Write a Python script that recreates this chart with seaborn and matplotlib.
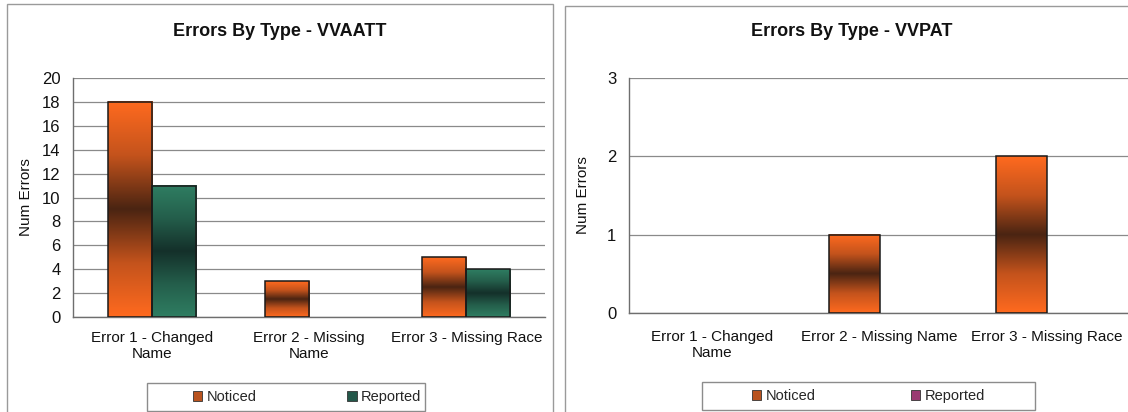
import numpy as np
import pandas as pd
import matplotlib
matplotlib.use("Agg")
import matplotlib.pyplot as plt
from matplotlib.colors import LinearSegmentedColormap
from matplotlib.patches import Patch, Rectangle
import seaborn as sns

# ---- data -------------------------------------------------------------
error_types = ["Error 1", "Error 2", "Error 3"]
series = ["Noticed", "Reported"]

vvaatt_noticed = [18, 3, 5]
vvaatt_reported = [11, 0, 4]

vvpat_noticed = [0, 1, 2]
vvpat_reported = [0, 0, 0]

vvaatt_ticklabels = ["Error 1 - Changed\nName", "Error 2 - Missing\nName",
                     "Error 3 - Missing Race"]
vvpat_ticklabels = ["Error 1 - Changed\nName", "Error 2 - Missing Name",
                    "Error 3 - Missing Race"]

vvaatt_yticks = [0, 2, 4, 6, 8, 10, 12, 14, 16, 18, 20]
vvpat_yticks = [0, 1, 2, 3]


def long_frame(noticed, reported):
    return pd.DataFrame({
        "error": error_types * 2,
        "series": [series[0]] * 3 + [series[1]] * 3,
        "count": list(noticed) + list(reported),
    })


# ---- style ------------------------------------------------------------
sns.set_style("white")
plt.rcParams["font.family"] = ["Liberation Sans", "DejaVu Sans"]

ORANGE = "#ff6a1f"
ORANGE_DARK = "#4a2412"
TEAL = "#2f7e62"
TEAL_DARK = "#14302a"
PURPLE = "#9a3a72"

cmap_orange = LinearSegmentedColormap.from_list(
    "orange_band", [ORANGE, "#c4531c", ORANGE_DARK, "#c4531c", ORANGE])
cmap_teal = LinearSegmentedColormap.from_list(
    "teal_band", [TEAL, "#245e4b", TEAL_DARK, "#245e4b", TEAL])

GRID = "#8a8a8a"
SPINE = "#6e6e6e"
TEXT = "#111111"

fig = plt.figure(figsize=(11.28, 4.12), dpi=100)
W, H = 1128, 412


def fig_rect(x0, y_top, x1, y_bot):
    return [x0 / W, 1 - y_bot / H, (x1 - x0) / W, (y_bot - y_top) / H]


def box(x0, y_top, x1, y_bot, **kw):
    fig.add_artist(Rectangle((x0 / W, 1 - y_bot / H), (x1 - x0) / W,
                             (y_bot - y_top) / H, transform=fig.transFigure,
                             fill=False, **kw))


# panel frames
box(7, 4, 553, 440, edgecolor="#9a9a9a", linewidth=1.0)
box(565, 6, 1200, 440, edgecolor="#9a9a9a", linewidth=1.0)


def gradient_bars(ax, cmaps):
    for container, cmap in zip(ax.containers, cmaps):
        for bar in container:
            h = bar.get_height()
            if h <= 0:
                bar.set_visible(False)
                continue
            x0, y0, w = bar.get_x(), bar.get_y(), bar.get_width()
            grad = np.linspace(0, 1, 256).reshape(-1, 1)
            ax.imshow(grad, cmap=cmap, extent=[x0, x0 + w, y0, y0 + h],
                      aspect="auto", origin="lower", zorder=2,
                      interpolation="bilinear")
            bar.set_facecolor("none")
            bar.set_edgecolor("#1a1a1a")
            bar.set_linewidth(1.1)
            bar.set_zorder(3)


def draw_panel(rect, df, palette, cmaps, width, yticks, ticklabels,
               title, title_x, legend_colors, legend_box, legend_x,
               colspacing, ylabel_x, xpad):
    ax = fig.add_axes(rect)
    sns.barplot(data=df, x="error", y="count", hue="series",
                order=error_types, hue_order=series, palette=palette,
                width=width, ax=ax, legend=False, saturation=1)
    gradient_bars(ax, cmaps)

    ax.set_xlim(-0.5, 2.5)
    ax.set_ylim(yticks[0], yticks[-1])
    ax.set_yticks(yticks)
    ax.set_xticks(range(len(error_types)))
    ax.set_xticklabels(ticklabels, fontsize=11, color=TEXT,
                       linespacing=1.2)
    ax.set_xticks([-0.5, 0.5, 1.5, 2.5], minor=True)
    ax.tick_params(axis="x", which="major", length=0, pad=xpad)
    ax.tick_params(axis="x", which="minor", length=5, width=0.9,
                   color=SPINE, direction="out")
    ax.tick_params(axis="y", length=5, width=0.9, color=SPINE,
                   direction="out", labelsize=12, pad=4, labelcolor=TEXT)
    ax.set_axisbelow(True)
    ax.yaxis.grid(True, color=GRID, linewidth=0.9)
    ax.xaxis.grid(False)
    for side in ("top", "right"):
        ax.spines[side].set_visible(False)
    for side in ("left", "bottom"):
        ax.spines[side].set_color(SPINE)
        ax.spines[side].set_linewidth(1.0)

    ax.set_xlabel("")
    ax.set_ylabel("Num Errors", fontsize=11, color=TEXT)
    ax.yaxis.set_label_coords(ylabel_x, 0.5)

    fig.text(title_x / W, 1 - 31 / H, title, ha="center", va="center",
             fontsize=13, fontweight="bold", color=TEXT)

    # legend: entries placed inside a separately drawn box
    lx0, ly_top, lx1, ly_bot = legend_box
    box(lx0, ly_top, lx1, ly_bot, edgecolor="#8c8c8c", linewidth=1.0)
    handles = [Patch(facecolor=c, edgecolor="#333333", linewidth=0.6)
               for c in legend_colors]
    ax.legend(handles, series, loc="center left",
              bbox_to_anchor=(legend_x / W, 1 - (ly_top + ly_bot) / 2 / H),
              bbox_transform=fig.transFigure, ncol=2,
              fontsize=10.5, frameon=False, handlelength=0.65,
              handleheight=0.65, handletextpad=0.3,
              columnspacing=colspacing, borderpad=0, borderaxespad=0)
    return ax


draw_panel(fig_rect(73, 78, 545, 317),
           long_frame(vvaatt_noticed, vvaatt_reported),
           [ORANGE, TEAL], [cmap_orange, cmap_teal], 0.56,
           vvaatt_yticks, vvaatt_ticklabels,
           "Errors By Type - VVAATT", 280,
           ["#b9531f", "#24584a"], (147, 383, 425, 411), 193, 6.2,
           -0.085, 10)

draw_panel(fig_rect(629, 78, 1130, 313),
           long_frame(vvpat_noticed, vvpat_reported),
           [ORANGE, PURPLE], [cmap_orange, cmap_teal], 0.6,
           vvpat_yticks, vvpat_ticklabels,
           "Errors By Type - VVPAT", 852,
           ["#b9531f", PURPLE], (702, 382, 1035, 410), 752, 6.5,
           -0.078, 12)

fig.savefig("out.png", dpi=100)
